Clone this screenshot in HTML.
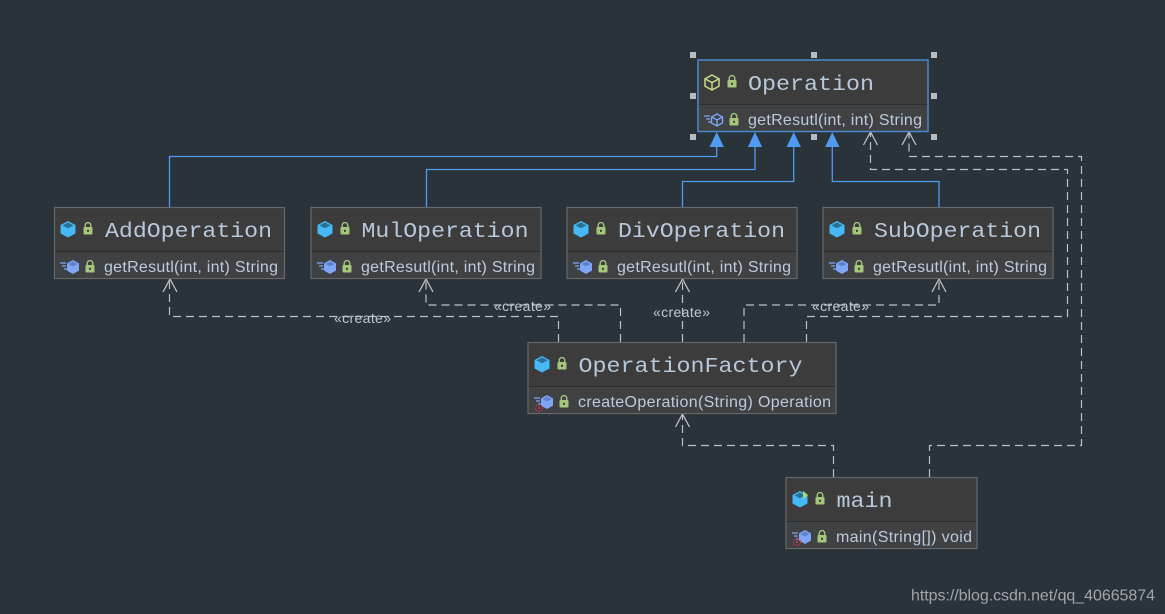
<!DOCTYPE html>
<html><head><meta charset="utf-8"><style>
html,body{margin:0;padding:0;background:#2a333a;width:1165px;height:614px;overflow:hidden}
svg{display:block}
.t{font-family:"Liberation Mono",monospace;font-size:21px;fill:#b7c8da}
.m{font-family:"Liberation Sans",sans-serif;font-size:16px;fill:#bccbdc}
.c{font-family:"Liberation Sans",sans-serif;font-size:14px;fill:#bcc8d4}
.w{font-family:"Liberation Sans",sans-serif;font-size:16px;fill:#a0a5a9}
.b{fill:#3c3c3c;stroke:#66696b;stroke-width:1.2}
.d{stroke:#2c2c2c;stroke-width:1;fill:none}
.f{fill:#3f4143}
.bl{fill:none;stroke:#4f9bf0;stroke-width:1.3}
.da{fill:none;stroke:#bcc0c3;stroke-width:1.2;stroke-dasharray:8 5}
.oa{fill:none;stroke:#bcc0c3;stroke-width:1.3}
</style></head><body>
<svg width="1165" height="614" viewBox="0 0 1165 614" xmlns="http://www.w3.org/2000/svg">
<defs>
<g id="lock"><rect x="-4.500" y="-2" width="9" height="7.500" rx="1" fill="#a4c77b"/><path d="M-2.800-2v-1.600a2.800 2.800 0 0 1 5.600 0V-2" fill="none" stroke="#a4c77b" stroke-width="1.400"/><rect x="-1" y="0.800" width="2" height="2" fill="#3c3c3c"/></g>
<g id="cube"><path d="M0-8L7.500-4V4.500L0 8.500L-7.500 4.500V-4Z" fill="#45b8f5"/><path d="M0-6.500L5.500-3.600L0-.8L-5.500-3.600Z" fill="#2a6f96"/></g>
<g id="mcube"><path d="M0-7L6-3.600V3.600L0 7L-6 3.600V-3.600Z" fill="#7ea6f5"/><path d="M0-5.500L4.500-3L0-.5L-4.500-3Z" fill="#5e83cc"/><path d="M-13-4h6M-11-1h4M-9 2h3" stroke="#7ea6f5" stroke-width="1.300" fill="none"/></g>
<g id="dot"><circle cx="0" cy="0" r="3.500" fill="none" stroke="#d0324a" stroke-width="1" stroke-dasharray="1.500 1"/><rect x="-1" y="-1" width="2" height="2" fill="#d0324a"/></g>
<path id="oh" d="M-7 13L0 0L7 13"/>
<path id="tri" d="M0 0L7.200 15H-7.200Z" fill="#4f9bf0"/>
</defs>
<rect width="1165" height="614" fill="#2a333a"/>

<path class="bl" d="M169.500 207V156.500H716.700V146"/>
<path class="bl" d="M426.500 207V169.500H755V146"/>
<path class="bl" d="M682.500 207V181.500H793.700V146"/>
<path class="bl" d="M939 207V181.500H832.300V146"/>
<use href="#tri" x="716.700" y="132"/><use href="#tri" x="755" y="132"/><use href="#tri" x="793.700" y="132"/><use href="#tri" x="832.300" y="132"/>

<path class="da" d="M558.500 342V316.500H169.500V280"/>
<path class="da" d="M620.500 342V305H426V280"/>
<path class="da" d="M682.500 342V280"/>
<path class="da" d="M744 342V305H939V280"/>
<path class="da" d="M806.500 342V316.500H1067.500V169.500H870.500V132"/>
<path class="da" d="M929.500 477V445.500H1081.500V156.500H909V132"/>
<path class="da" d="M833.500 477V445.500H682.500V415"/>
<use href="#oh" class="oa" x="170" y="279"/>
<use href="#oh" class="oa" x="426" y="279"/>
<use href="#oh" class="oa" x="682.500" y="279"/>
<use href="#oh" class="oa" x="939" y="279"/>
<use href="#oh" class="oa" x="870.500" y="132"/>
<use href="#oh" class="oa" x="909" y="132"/>
<use href="#oh" class="oa" x="682.500" y="414"/>

<text class="c" x="334" y="323" textLength="57">«create»</text>
<text class="c" x="494" y="311" textLength="57">«create»</text>
<text class="c" x="653" y="317" textLength="57">«create»</text>
<text class="c" x="812" y="311" textLength="57">«create»</text>

<rect x="698" y="60" width="230" height="71" fill="#3c3c3c"/>
<rect x="698" y="105" width="230" height="26" class="f"/>
<path class="d" d="M698 104.500H928"/>
<rect x="698" y="60" width="230" height="71.500" fill="none" stroke="#4a88d0" stroke-width="1.500"/>
<g transform="translate(712,82.500)"><path d="M0-7.500L7 -3.700V3.700L0 7.500L-7 3.700V-3.700Z M-7-3.700L0 0L7-3.700M0 0V7.500" fill="none" stroke="#c3dc8a" stroke-width="1.500"/></g>
<use href="#lock" x="732" y="82"/>
<text class="t" x="748" y="90" textLength="126" lengthAdjust="spacingAndGlyphs">Operation</text>
<g transform="translate(717,120)"><path d="M0-6L5.500-3V3L0 6L-5.500 3V-3Z M-5.500-3L0 0L5.500-3M0 0V6" fill="none" stroke="#7ea6f5" stroke-width="1.400"/><path d="M-13-4h6M-11-1h4M-9 2h3" stroke="#7ea6f5" stroke-width="1.300" fill="none"/></g>
<use href="#lock" x="734" y="120"/>
<text class="m" x="748" y="125" textLength="174">getResutl(int, int) String</text>
<g fill="#b9bcbe">
<rect x="690" y="52" width="6" height="6"/><rect x="811" y="52" width="6" height="6"/><rect x="931" y="52" width="6" height="6"/>
<rect x="690" y="93" width="6" height="6"/><rect x="931" y="93" width="6" height="6"/>
<rect x="690" y="134" width="6" height="6"/><rect x="811" y="134" width="6" height="6"/><rect x="931" y="134" width="6" height="6"/>
</g>

<rect x="54.500" y="207.500" width="230" height="71" class="b"/>
<rect x="55.500" y="252" width="228" height="26" class="f"/><path class="d" d="M55 251.500H284"/>
<use href="#cube" x="68" y="229"/><use href="#lock" x="88" y="229"/>
<text class="t" x="105" y="237" textLength="167" lengthAdjust="spacingAndGlyphs">AddOperation</text>
<use href="#mcube" x="73" y="267"/><use href="#lock" x="90" y="267"/>
<text class="m" x="104" y="272" textLength="174">getResutl(int, int) String</text>

<rect x="311" y="207.500" width="230" height="71" class="b"/>
<rect x="312" y="252" width="228" height="26" class="f"/><path class="d" d="M311.500 251.500H540.500"/>
<use href="#cube" x="325" y="229"/><use href="#lock" x="345" y="229"/>
<text class="t" x="361.500" y="237" textLength="167" lengthAdjust="spacingAndGlyphs">MulOperation</text>
<use href="#mcube" x="330" y="267"/><use href="#lock" x="347" y="267"/>
<text class="m" x="361" y="272" textLength="174">getResutl(int, int) String</text>

<rect x="567" y="207.500" width="230" height="71" class="b"/>
<rect x="568" y="252" width="228" height="26" class="f"/><path class="d" d="M567.500 251.500H796.500"/>
<use href="#cube" x="581" y="229"/><use href="#lock" x="601" y="229"/>
<text class="t" x="618" y="237" textLength="167" lengthAdjust="spacingAndGlyphs">DivOperation</text>
<use href="#mcube" x="586" y="267"/><use href="#lock" x="603" y="267"/>
<text class="m" x="617" y="272" textLength="174">getResutl(int, int) String</text>

<rect x="823" y="207.500" width="230" height="71" class="b"/>
<rect x="824" y="252" width="228" height="26" class="f"/><path class="d" d="M823.500 251.500H1052.500"/>
<use href="#cube" x="837" y="229"/><use href="#lock" x="857" y="229"/>
<text class="t" x="874" y="237" textLength="167" lengthAdjust="spacingAndGlyphs">SubOperation</text>
<use href="#mcube" x="842" y="267"/><use href="#lock" x="859" y="267"/>
<text class="m" x="873" y="272" textLength="174">getResutl(int, int) String</text>

<rect x="528" y="342.500" width="308" height="71" class="b"/>
<rect x="529" y="387" width="306" height="26" class="f"/><path class="d" d="M528.500 386.500H835.500"/>
<use href="#cube" x="542" y="364"/><use href="#lock" x="562" y="364"/>
<text class="t" x="578.500" y="372" textLength="224" lengthAdjust="spacingAndGlyphs">OperationFactory</text>
<use href="#mcube" x="547" y="402"/><use href="#dot" x="539" y="408"/><use href="#lock" x="564" y="402"/>
<text class="m" x="578" y="407" textLength="253">createOperation(String) Operation</text>

<rect x="786" y="477.500" width="191" height="71" class="b"/>
<rect x="787" y="522" width="189" height="26" class="f"/><path class="d" d="M786.500 521.500H976.500"/>
<use href="#cube" x="800" y="499"/><path d="M803 491l5 4-5 4z" fill="#a9dc76"/><use href="#lock" x="820" y="499"/>
<text class="t" x="836.500" y="507" textLength="56" lengthAdjust="spacingAndGlyphs">main</text>
<use href="#mcube" x="805" y="537"/><use href="#dot" x="797" y="542"/><use href="#lock" x="822" y="537"/>
<text class="m" x="836" y="542" textLength="136">main(String[]) void</text>

<text class="w" x="911" y="600.500" textLength="244">https://blog.csdn.net/qq_40665874</text>
</svg>
</body></html>
